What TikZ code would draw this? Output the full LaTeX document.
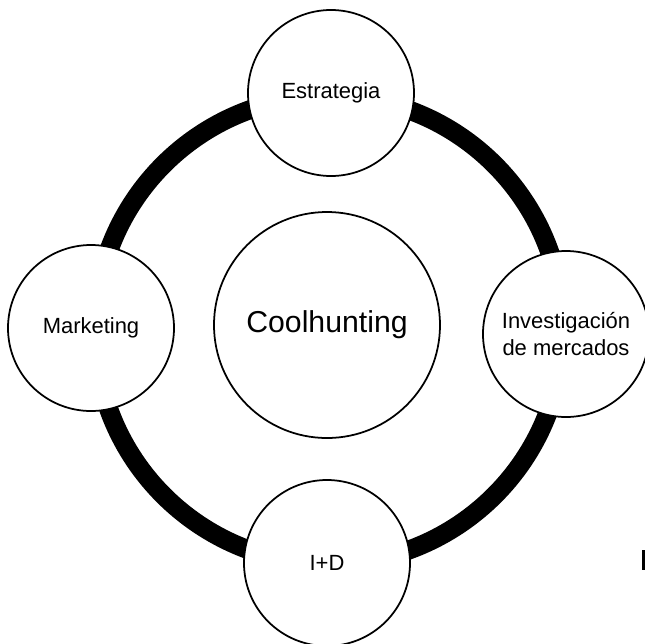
\documentclass[tikz,border=0pt]{standalone}
\usepackage{fontspec}
\setmainfont{Liberation Sans}
\usetikzlibrary{positioning}

\begin{document}
\begin{tikzpicture}[
    area/.style={circle, draw, fill=white, line width=1pt, minimum size=3.32cm, inner sep=0pt, align=center, font=\fontsize{12.5}{15.5}\selectfont},
    core/.style={area, minimum size=4.52cm, font=\fontsize{17.2}{20}\selectfont}
]
    \useasboundingbox (-6.58,-6.26) rectangle (6.32,6.6);
    % Thick ring joining the four areas
    \draw[line width=0.38cm] (0,0) circle (4.68cm);

    % Areas around the ring
    \node[area] (estrategia) at (0.04,4.74) {Estrategia};
    \node[area] (marketing) at (-4.76,0.04) {Marketing};
    \node[area] (investigacion) at (4.74,-0.08) {Investigación\\de mercados};
    \node[area] (imasd) at (-0.04,-4.66) {I+D};

    % Centre
    \node[core] (coolhunting) at (-0.04,0.1) {Coolhunting};

    % Edge mark
    \fill (6.26,-4.4) rectangle (6.32,-4.8);
\end{tikzpicture}
\end{document}
